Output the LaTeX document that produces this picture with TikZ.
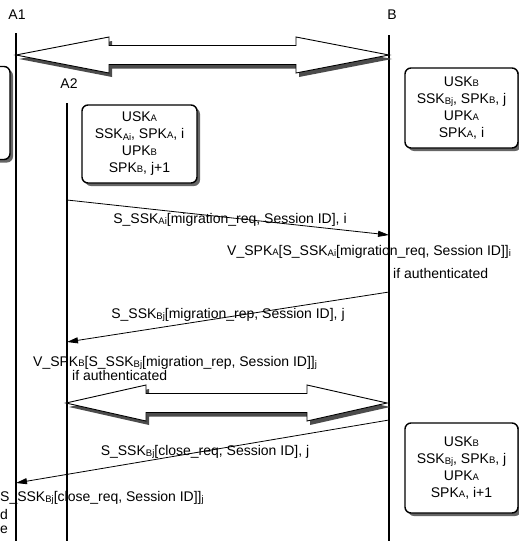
\documentclass[tikz,border=0pt]{standalone}
\usepackage{fontspec}
\setmainfont{Liberation Sans}
\usetikzlibrary{arrows.meta,shadows}

% small capital index as printed after a key name
\newcommand{\lo}[1]{{\fontsize{9.5}{9.5}\selectfont #1}}
\newcommand{\idx}[1]{\raisebox{-1.3pt}{\fontsize{9.5}{9.5}\selectfont #1}}

% fat double arrow between two named tips, #3 = head length
\newcommand{\fatarrow}[3]{%
  \draw[fatarr] (#1) -- ([shift={(#3,-18)}]#1) -- ([shift={(#3,-9.5)}]#1)
    -- ([shift={(-#3,-9.5)}]#2) -- ([shift={(-#3,-18)}]#2) -- (#2)
    -- ([shift={(-#3,18)}]#2) -- ([shift={(-#3,9.5)}]#2)
    -- ([shift={(#3,9.5)}]#1) -- ([shift={(#3,18)}]#1) -- cycle;}

\begin{document}
\begin{tikzpicture}[x=1pt,y=-1pt,
    every node/.style={font=\fontsize{14}{17}\selectfont,inner sep=0pt},
    lifeline/.style={line width=1.1pt},
    msg/.style={line width=0.8pt,-{Triangle[length=11pt,width=6pt]}},
    keybox/.style={draw,line width=1.4pt,rounded corners=6pt,fill=white,align=center,
      drop shadow={shadow xshift=3pt,shadow yshift=-3pt,fill=black!60,opacity=1}},
    fatarr/.style={draw,line width=0.9pt,fill=white,
      drop shadow={shadow xshift=3pt,shadow yshift=-4pt,fill=black!70,opacity=1}}]
  \useasboundingbox (0,0) rectangle (519,541);
  \clip (0,0) rectangle (519,541);

  % entities
  \node (a1) at (17,15) {A1};
  \node (b) at (392,15) {B};
  \node (a2) at (69,84) {A2};

  % lifelines
  \coordinate (a1top) at (16,33);  \coordinate (a1bot) at (16,545);
  \coordinate (a2top) at (67,103); \coordinate (a2bot) at (67,545);
  \coordinate (btop) at (389,35);  \coordinate (bbot) at (389,545);
  \draw[lifeline] (a1top) -- (a1bot);
  \draw[lifeline] (a2top) -- (a2bot);
  \draw[lifeline] (btop) -- (bbot);

  % key stores
  \node[keybox,minimum width=110pt,minimum height=93pt] (keysAold) at (-45,113) {};
  \node[keybox,minimum width=115pt,minimum height=78pt] (keysA) at (139.5,144)
    {USK\lo{A}\\SSK\idx{Ai}, SPK\lo{A}, i\\UPK\lo{B}\\SPK\lo{B}, j+1};
  \node[keybox,minimum width=113pt,minimum height=80pt] (keysB) at (461.5,108)
    {USK\lo{B}\\SSK\idx{Bj}, SPK\lo{B}, j\\UPK\lo{A}\\SPK\lo{A}, i};
  \node[keybox,minimum width=113pt,minimum height=90pt] (keysBnew) at (461.5,468)
    {USK\lo{B}\\SSK\idx{Bj}, SPK\lo{B}, j\\UPK\lo{A}\\SPK\lo{A}, i+1};

  % session links
  \coordinate (s1a) at (16,55);  \coordinate (s1b) at (389,55);
  \coordinate (s2a) at (66,403); \coordinate (s2b) at (387,403);
  \fatarrow{s1a}{s1b}{93}
  \fatarrow{s2a}{s2b}{80}

  % migration request
  \coordinate (m1s) at (67,200); \coordinate (m1e) at (389,235);
  \draw[msg] (m1s) -- (m1e);
  \node (m1) at (230,220) {S\_SSK\idx{Ai}[migration\_req, Session ID], i};
  \node[anchor=west] (v1) at (227,252) {V\_SPK\lo{A}[S\_SSK\idx{Ai}[migration\_req, Session ID]]\idx{i}};
  \node[anchor=west] (ok1) at (393,273) {if authenticated};

  % migration reply
  \coordinate (m2s) at (389,292); \coordinate (m2e) at (67,342);
  \draw[msg] (m2s) -- (m2e);
  \node (m2) at (228,315) {S\_SSK\idx{Bj}[migration\_rep, Session ID], j};
  \node[anchor=west] (v2) at (33,363) {V\_SPK\lo{B}[S\_SSK\idx{Bj}[migration\_rep, Session ID]]\idx{j}};
  \node[anchor=west] (ok2) at (72,375) {if authenticated};

  % close request
  \coordinate (m3s) at (389,420); \coordinate (m3e) at (16,483);
  \draw[msg] (m3s) -- (m3e);
  \node (m3) at (205,452) {S\_SSK\idx{Bj}[close\_req, Session ID], j};
  \node[anchor=west] (v3) at (0,498) {S\_SSK\idx{Bj}[close\_req, Session ID]]\idx{j}};
  \node[anchor=west] (v3b) at (0,514) {d};
  \node[anchor=west] (v3c) at (0,530) {e};
\end{tikzpicture}
\end{document}
